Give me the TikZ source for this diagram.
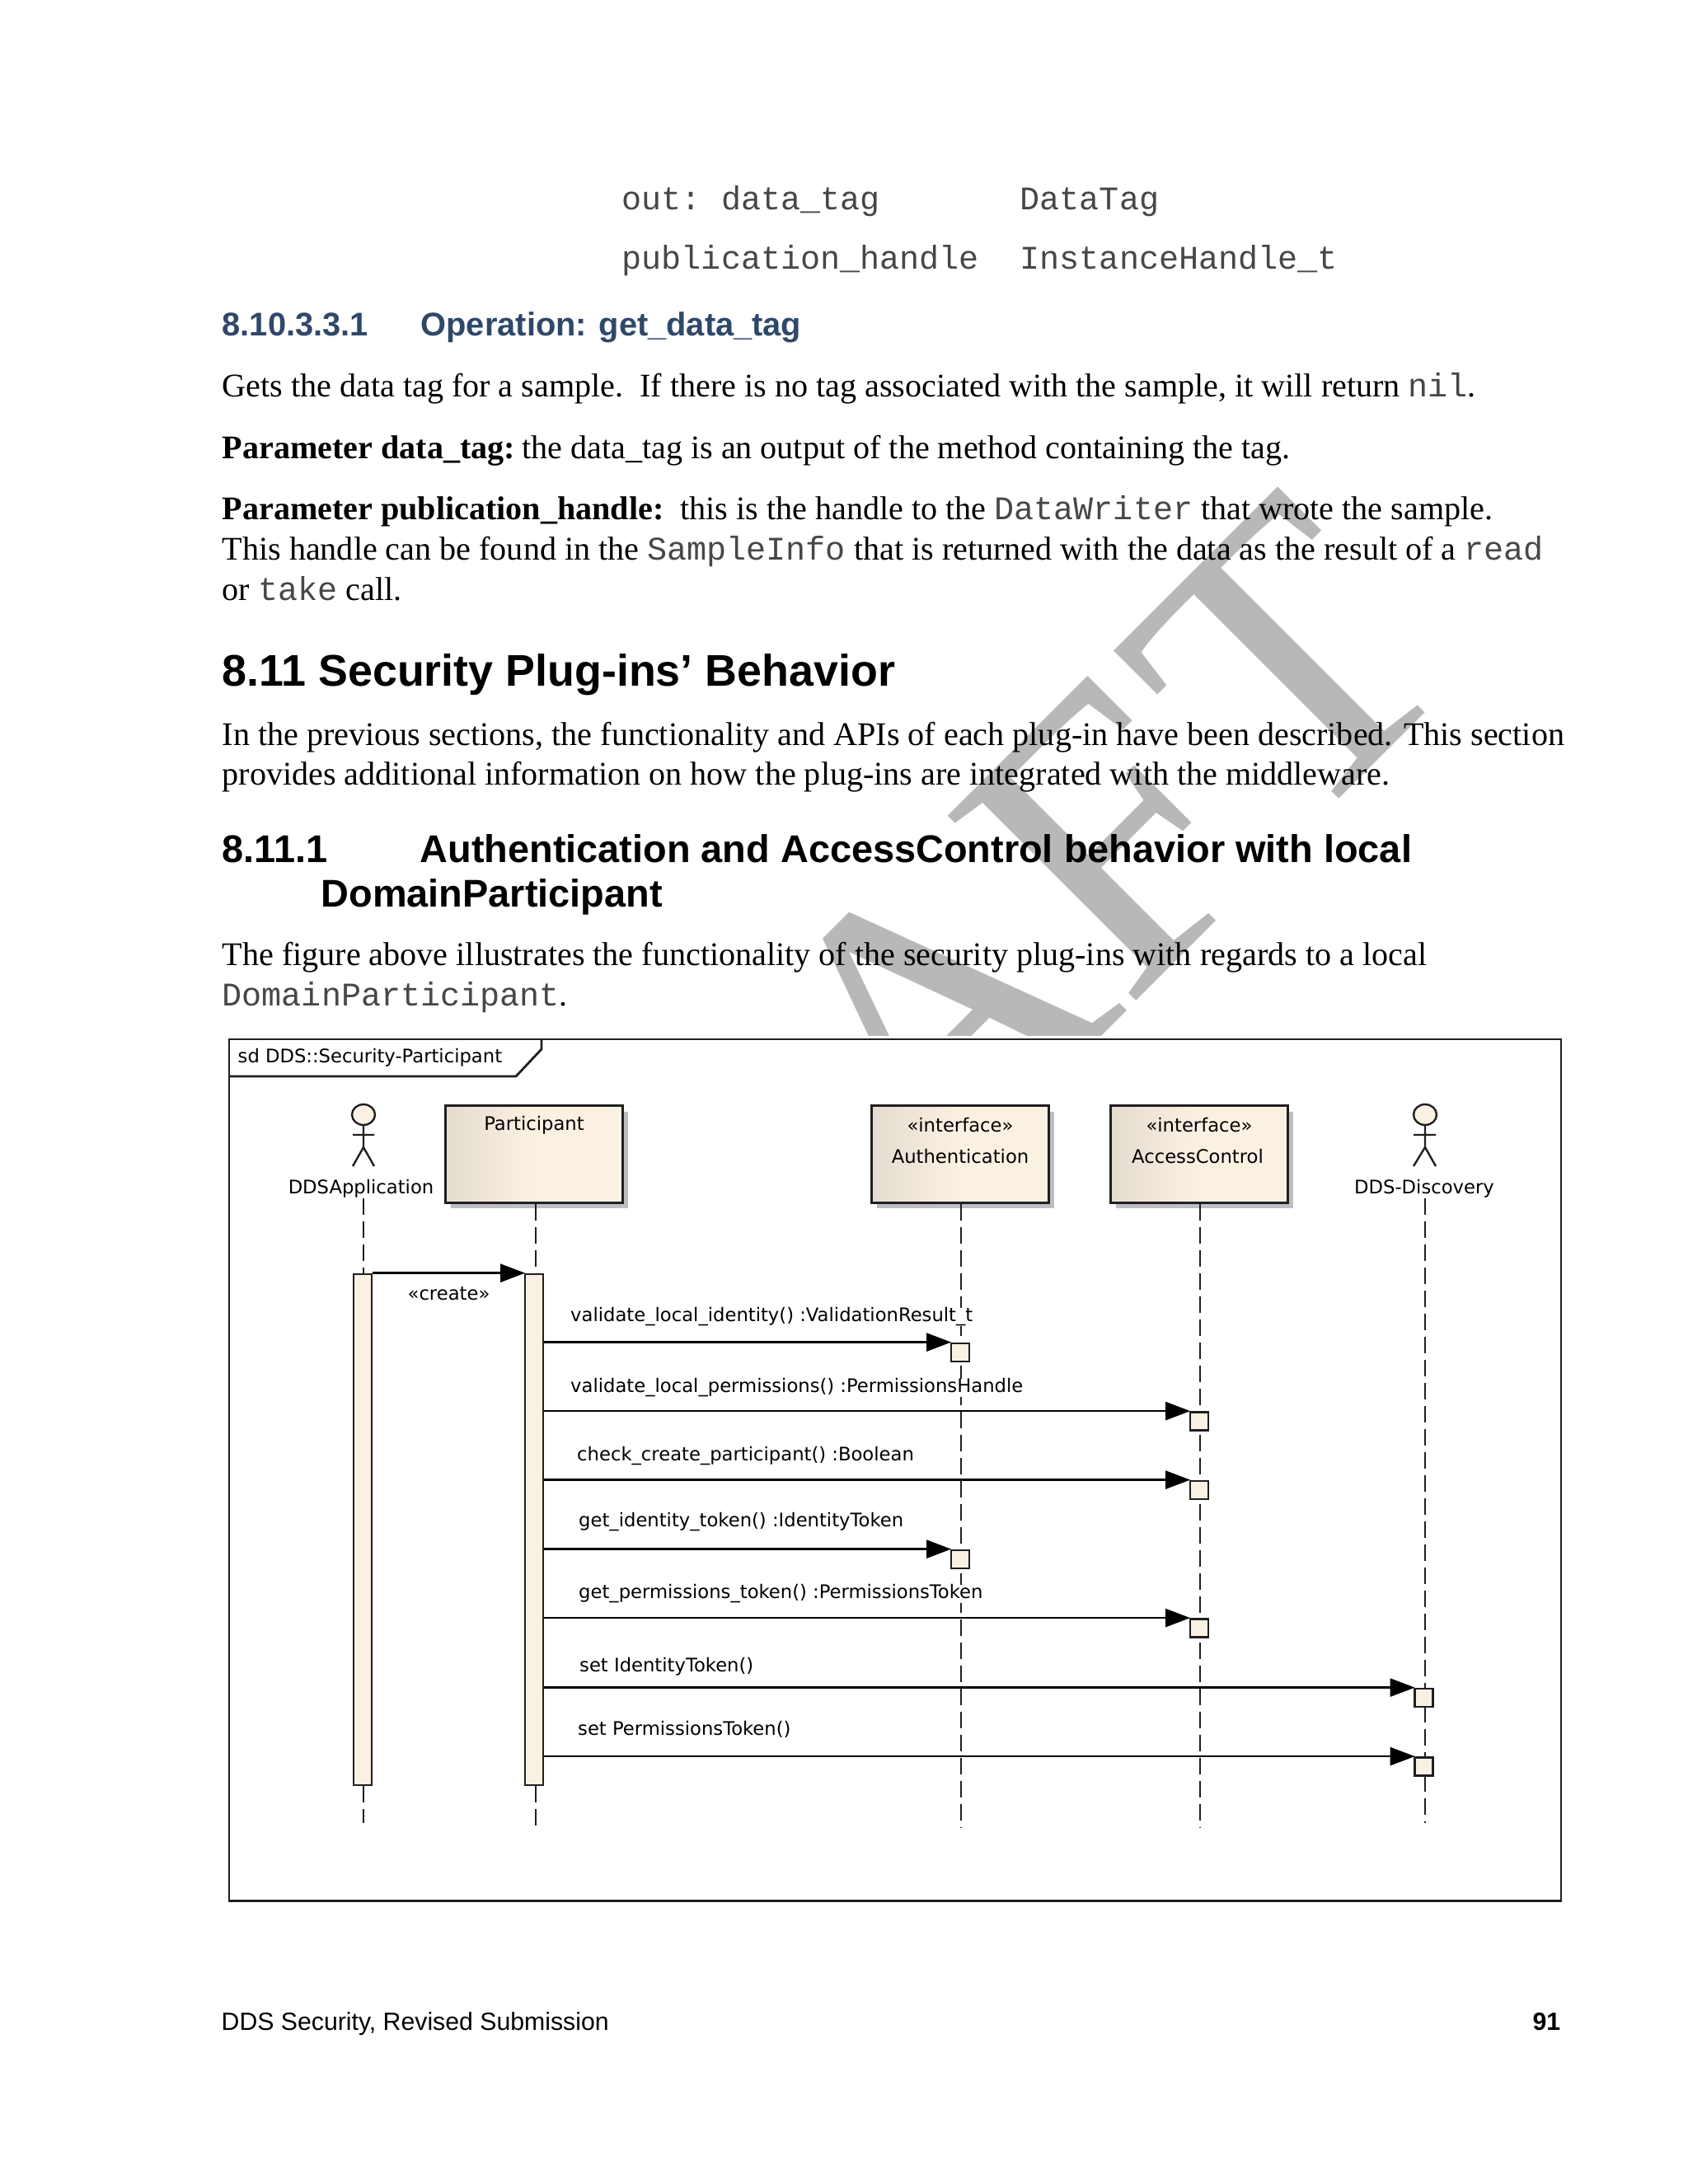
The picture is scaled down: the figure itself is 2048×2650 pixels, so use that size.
\documentclass[tikz,border=0pt]{standalone}
\usepackage{fontspec}
\setmainfont{Liberation Serif}
\setsansfont{Liberation Sans}
\setmonofont{Liberation Mono}
\newfontfamily\umlfont{DejaVu Sans}
\usetikzlibrary{arrows.meta,shadows}
\definecolor{markgray}{RGB}{183,184,186}
\definecolor{headblue}{RGB}{47,72,106}
\definecolor{paper}{RGB}{251,241,227}
\definecolor{paperdark}{RGB}{228,220,207}
\definecolor{shadegray}{RGB}{190,190,194}
\newcommand{\mono}[1]{{\ttfamily\color{black!72}#1}}

\begin{document}
\begin{tikzpicture}[
  x=0.01cm, y=-0.01cm,
  font=\fontsize{11.405pt}{13pt}\selectfont,
  line/.style={anchor=base west, inner sep=0pt},
  monoline/.style={line, font=\fontsize{11.405pt}{13pt}\selectfont\ttfamily, text=black!72},
  head/.style={line, font=\fontsize{#1}{13pt}\selectfont\sffamily\bfseries},
  foot/.style={inner sep=0pt, font=\fontsize{8.6pt}{11pt}\selectfont\sffamily},
  marktext/.style={anchor=base west, inner sep=0pt, rotate=45, text=markgray, font=\fontsize{139pt}{139pt}\selectfont},
  frame/.style={draw=black!88, line width=0.028cm},
  uml/.style={inner sep=0pt, font=\fontsize{6.45pt}{8pt}\selectfont\umlfont},
  msglab/.style={uml, anchor=west, fill=white, inner xsep=1pt},
  classbox/.style={rectangle, draw=black!88, line width=0.03cm, minimum width=2.14cm, minimum height=1.17cm,
    left color=paperdark, right color=paper, middle color=paper,
    drop shadow={opacity=1, fill=shadegray, shadow xshift=0.065cm, shadow yshift=-0.07cm}},
  actbar/.style={rectangle, draw=black!88, fill=paper, line width=0.028cm, minimum width=0.22cm, inner sep=0pt},
  execbox/.style={rectangle, draw=black!88, fill=paper, line width=0.028cm, minimum width=0.22cm, minimum height=0.22cm, inner sep=0pt},
  lifeline/.style={draw=black!88, line width=0.02cm, dash pattern=on 0.2cm off 0.08cm},
  msg/.style={draw=black, line width=0.026cm, shorten >=-0.015cm, -{Triangle[length=0.3cm, width=0.22cm]}},
  stick/.style={draw=black!88, line width=0.024cm},
]
\useasboundingbox (0,0) rectangle (2048,2650);

% ---------------- watermark and figure ground ----------------
\node[marktext] (markt) at (1571,1023) {T};
\node[marktext] (markf) at (1366,1227) {F};
\node[marktext] (marka) at (1120,1474) {A};
\fill[white] (270,1257) rectangle (1900,2312);

% ---------------- page text ----------------
\node[monoline] (outkey) at (754,254.5) {out: data\_tag};
\node[monoline] (outtype) at (1237,254.5) {DataTag};
\node[monoline] (pubkey) at (754,326.5) {publication\_handle};
\node[monoline] (pubtype) at (1237,326.5) {InstanceHandle\_t};

\node[head=11.32pt, text=headblue] (opnum) at (269,407.5) {8.10.3.3.1};
\node[head=11.32pt, text=headblue] (optitle) at (510,407.5) {Operation: get\_data\_tag};

\node[line] (gets) at (269,481.5) {Gets the data tag for a sample.\ \ If there is no tag associated with the sample, it will return \mono{nil}.};
\node[line] (param1) at (269,556.5) {\textbf{Parameter data\_tag:}\hspace{-0.05cm} the data\_tag is an output of the method containing the tag.};
\node[line] (param2) at (269,630) {\textbf{Parameter publication\_handle:}\ \ this is the handle to the \mono{DataWriter} that wrote the sample.};
\node[line] (param3) at (269,679) {This handle can be found in the \mono{SampleInfo} that is returned with the data as the result of a \mono{read}};
\node[line] (param4) at (269,728) {or \mono{take} call.};

\node[head=15.3pt] (sec) at (269,832) {8.11 Security Plug-ins’ Behavior};
\node[line] (prev1) at (269,904.5) {In the previous sections, the functionality and APIs of each plug-in have been described. This section};
\node[line] (prev2) at (269,952.5) {provides additional information on how the plug-ins are integrated with the middleware.};

\node[head=13.33pt] (subnum) at (269,1046) {8.11.1};
\node[head=13.33pt] (subtitle1) at (509,1046) {Authentication and AccessControl behavior with local};
\node[head=13.33pt] (subtitle2) at (389,1100) {DomainParticipant};
\node[line] (fig1) at (269,1171.5) {The figure above illustrates the functionality of the security plug-ins with regards to a local};
\node[line] (fig2) at (269,1220.5) {\mono{DomainParticipant}.};

\node[foot, anchor=base west] (footleft) at (268,2463) {DDS Security, Revised Submission};
\node[foot, anchor=base east, font=\fontsize{8.6pt}{11pt}\selectfont\sffamily\bfseries] (footright) at (1894,2463) {91};

% ---------------- frame ----------------
\draw[frame, fill=white] (278,1261) rectangle (1894,2306.5);
\draw[frame] (278,1306) -- (626,1306) -- (657,1273) -- (657,1261);
\node[uml, anchor=west] (sdlab) at (288,1283) {sd DDS::Security-Participant};

% ---------------- actors and classes ----------------
\node[classbox] (partbox) at (648,1400.5) {};
\node[uml] (partlab) at (648,1365) {Participant};
\node[classbox] (authbox) at (1165,1400.5) {};
\node[uml] (authstereo) at (1165,1365) {«interface»};
\node[uml] (authlab) at (1165,1403) {Authentication};
\node[classbox] (accbox) at (1455,1400.5) {};
\node[uml] (accstereo) at (1455,1365) {«interface»};
\node[uml] (acclab) at (1453,1403) {AccessControl};

\draw[stick, fill=paper] (441,1352.5) ellipse (14 and 12.5);
\draw[stick] (441,1365) -- (441,1392) (428,1377) -- (454,1377) (428,1415) -- (441,1392) -- (454,1415);
\node[uml] (applab) at (438,1442) {DDSApplication};
\draw[stick, fill=paper] (1729,1352.5) ellipse (14 and 12.5);
\draw[stick] (1729,1365) -- (1729,1392) (1715,1377) -- (1742,1377) (1715,1415) -- (1729,1392) -- (1742,1415);
\node[uml] (disclab) at (1728,1442) {DDS-Discovery};

% ---------------- activations ----------------
\node[actbar, minimum height=6.195cm] (appact) at (440,1856) {};
\node[actbar, minimum height=6.195cm] (partact) at (648,1856) {};

% ---------------- lifelines ----------------
\coordinate (append) at (441,2212);
\coordinate (partend) at (649.5,2217);
\coordinate (authend) at (1166,2217);
\coordinate (accend) at (1456,2217);
\coordinate (discend) at (1729,2212);
\draw[lifeline] (append |- applab.south) -- (append |- appact.north);
\draw[lifeline] (append |- appact.south) -- (append);
\draw[lifeline] (partend |- partbox.south) -- (partend |- partact.north);
\draw[lifeline] (partend |- partact.south) -- (partend);
\draw[lifeline] (authend |- authbox.south) -- (authend);
\draw[lifeline] (accend |- accbox.south) -- (accend);
\draw[lifeline] (discend |- disclab.south) -- (discend);

\node[execbox] (exec1) at (1165,1641) {};
\node[execbox] (exec2) at (1455,1724.5) {};
\node[execbox] (exec3) at (1455,1808) {};
\node[execbox] (exec4) at (1165,1892) {};
\node[execbox] (exec5) at (1455,1975.5) {};
\node[execbox] (exec6) at (1727.5,2060) {};
\node[execbox] (exec7) at (1727.5,2143.5) {};

% ---------------- messages ----------------
\draw[msg] (appact.north east) -- (partact.north west);
\node[uml] (createlab) at (544.5,1570) {«create»};
\draw[msg] (partact.east |- exec1.north) -- (exec1.north west);
\draw[msg] (partact.east |- exec2.north) -- (exec2.north west);
\draw[msg] (partact.east |- exec3.north) -- (exec3.north west);
\draw[msg] (partact.east |- exec4.north) -- (exec4.north west);
\draw[msg] (partact.east |- exec5.north) -- (exec5.north west);
\draw[msg] (partact.east |- exec6.north) -- (exec6.north west);
\draw[msg] (partact.east |- exec7.north) -- (exec7.north west);
\node[msglab] (msg1) at (688,1598) {validate\_local\_identity() :ValidationResult\_t};
\node[msglab] (msg2) at (688,1684) {validate\_local\_permissions() :PermissionsHandle};
\node[msglab] (msg3) at (696,1767) {check\_create\_participant() :Boolean};
\node[msglab] (msg4) at (698,1847) {get\_identity\_token() :IdentityToken};
\node[msglab] (msg5) at (698,1934) {get\_permissions\_token() :PermissionsToken};
\node[msglab] (msg6) at (699,2022) {set IdentityToken()};
\node[msglab] (msg7) at (697,2098) {set PermissionsToken()};
\end{tikzpicture}
\end{document}
